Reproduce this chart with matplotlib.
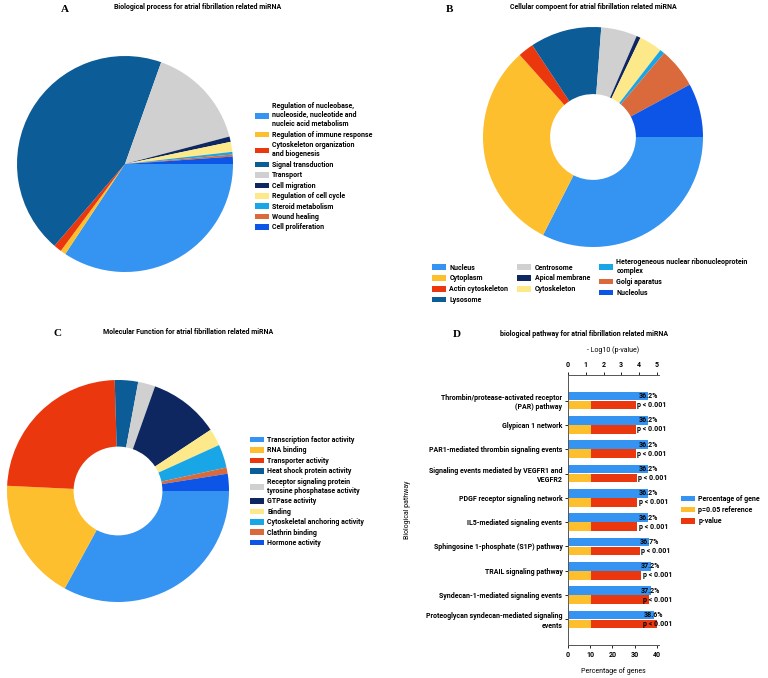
import matplotlib
matplotlib.use("Agg")
import matplotlib.pyplot as plt
import numpy as np

plt.rcParams["font.family"] = ["Roboto", "DejaVu Sans"]
plt.rcParams["font.weight"] = "bold"

# Panel A: biological process
bp_labels = [
    "Regulation of nucleobase,\nnucleoside, nucleotide and\nnucleic acid metabolism",
    "Regulation of immune response",
    "Cytoskeleton organization\nand biogenesis",
    "Signal transduction",
    "Transport",
    "Cell migration",
    "Regulation of cell cycle",
    "Steroid metabolism",
    "Wound healing",
    "Cell proliferation",
]
bp_values = [34.4, 0.8, 1.2, 44.2, 15.5, 0.8, 1.5, 0.4, 0.3, 1.1]

# Panel B: cellular component
cc_labels = [
    "Nucleus", "Cytoplasm", "Actin cytoskeleton", "Lysosome",
    "Centrosome", "Apical membrane", "Cytoskeleton",
    "Heterogeneous nuclear ribonucleoprotein\ncomplex",
    "Golgi aparatus", "Nucleolus",
]
cc_values = [32.5, 30.9, 2.3, 10.5, 5.3, 0.6, 3.4, 0.7, 5.9, 7.9]

# Panel C: molecular function
mf_labels = [
    "Transcription factor activity",
    "RNA binding",
    "Transporter activity",
    "Heat shock protein activity",
    "Receptor signaling protein\ntyrosine phosphatase activity",
    "GTPase activity",
    "Binding",
    "Cytoskeletal anchoring activity",
    "Clathrin binding",
    "Hormone activity",
]
mf_values = [33.0, 17.8, 23.8, 3.4, 2.5, 10.3, 2.5, 3.4, 0.9, 2.5]

# Panel D: biological pathway
pathways = [
    "Thrombin/protease-activated receptor\n(PAR) pathway",
    "Glypican 1 network",
    "PAR1-mediated thrombin signaling events",
    "Signaling events mediated by VEGFR1 and\nVEGFR2",
    "PDGF receptor signaling network",
    "IL5-mediated signaling events",
    "Sphingosine 1-phosphate (S1P) pathway",
    "TRAIL signaling pathway",
    "Syndecan-1-mediated signaling events",
    "Proteoglycan syndecan-mediated signaling\nevents",
]
pct_genes = [36.2, 36.2, 36.2, 36.2, 36.2, 36.2, 36.7, 37.2, 37.2, 38.6]
neg_log_p = [3.82, 3.82, 3.82, 3.88, 3.91, 3.91, 4.03, 4.12, 4.57, 5.04]
ref_p = 0.05

colors = ["#3593F1", "#FDBF2D", "#EB370E", "#0B5C97", "#D0D0D0",
          "#0E2760", "#FDE88A", "#18A6E6", "#DA6A3C", "#0D55E6"]

W, H = 768, 678
fig = plt.figure(figsize=(W / 100, H / 100), dpi=100)
fs = 5.0


def px_axes(cx, cy, r):
    return fig.add_axes([(cx - r) / W, (H - cy - r) / H, 2 * r / W, 2 * r / H])


def fig_text(x, y, s, **kw):
    fig.text(x / W, 1 - y / H, s, **kw)


def pie_panel(cx, cy, r, values, hole=None):
    ax = px_axes(cx, cy, r)
    props = {"linewidth": 0}
    if hole:
        props["width"] = 1 - hole
    wedges, _ = ax.pie(values, colors=colors, startangle=0, counterclock=False,
                       radius=1, wedgeprops=props)
    ax.set_xlim(-1, 1)
    ax.set_ylim(-1, 1)
    return wedges


leg_kw = dict(frameon=False, fontsize=fs, borderpad=0, borderaxespad=0,
              handlelength=2.0, handleheight=0.85, handletextpad=0.5)

# A
w_a = pie_panel(125, 164, 108, bp_values)
fig_text(198, 7, "Biological process for atrial fibrillation related miRNA",
         ha="center", va="center", fontsize=fs)
fig_text(65, 9, "A", ha="center", va="center", fontsize=8,
         family="Liberation Serif", weight="bold")
fig.legend(w_a, bp_labels, loc="upper left", bbox_to_anchor=(255 / W, 1 - 102 / H),
           labelspacing=0.35, **leg_kw)

# B
w_b = pie_panel(593, 137, 110, cc_values, hole=0.39)
fig_text(593, 7, "Cellular compoent for atrial fibrillation related miRNA",
         ha="center", va="center", fontsize=fs)
fig_text(449, 9, "B", ha="center", va="center", fontsize=8,
         family="Liberation Serif", weight="bold")
fig.legend(w_b, cc_labels, loc="upper left", bbox_to_anchor=(432 / W, 1 - 258 / H),
           ncols=3, labelspacing=0.4, columnspacing=1.3, **leg_kw)

# C
w_c = pie_panel(118, 491, 111, mf_values, hole=0.4)
fig_text(188, 332, "Molecular Function for atrial fibrillation related miRNA",
         ha="center", va="center", fontsize=fs)
fig_text(58, 334, "C", ha="center", va="center", fontsize=8,
         family="Liberation Serif", weight="bold")
fig.legend(w_c, mf_labels, loc="upper left", bbox_to_anchor=(250 / W, 1 - 436 / H),
           labelspacing=0.35, **leg_kw)

# D
fig_text(584, 334, "biological pathway for atrial fibrillation related miRNA",
         ha="center", va="center", fontsize=fs)
fig_text(457, 335, "D", ha="center", va="center", fontsize=8,
         family="Liberation Serif", weight="bold")

ax = fig.add_axes([568 / W, 33 / H, 91 / W, 270 / H])
ax_top = ax.twiny()
y = np.arange(len(pathways))
bh = 0.35
off = 0.185
b_pct = ax.barh(y - off, pct_genes, height=bh, color=colors[0], label="Percentage of gene")
ax.set_xlim(0, 41)
ax_top.set_xlim(0, 41 / 8)
b_p = ax_top.barh(y + off, neg_log_p, height=bh, color=colors[2], label="p-value")
b_ref = ax_top.barh(y + off, [-np.log10(ref_p)] * len(y), height=bh, color=colors[1],
                    label="p=0.05 reference")
ax.set_ylim(10.05, -1.05)
ax_top.set_ylim(10.05, -1.05)

for yi, v in zip(y, pct_genes):
    ax.text(v, yi - off, f"{v}%", ha="center", va="center", fontsize=fs)
for yi, v in zip(y, neg_log_p):
    ax_top.text(min(v + 0.09, 4.21), yi + off, "p < 0.001", ha="left", va="center",
                fontsize=fs)

ax.set_yticks(y)
ax.set_yticklabels(pathways, fontsize=fs)
ax.set_xticks([0, 10, 20, 30, 40])
ax.tick_params(axis="x", labelsize=fs, length=2.5, width=0.6, pad=2)
ax.tick_params(axis="y", length=2.5, width=0.6, pad=1.5)
ax_top.set_xticks([0, 1, 2, 3, 4, 5])
ax_top.tick_params(axis="x", labelsize=fs, length=2.5, width=0.6, pad=2)
ax.set_xlabel("Percentage of genes", fontsize=fs, labelpad=6)
ax_top.set_xlabel("- Log10 (p-value)", fontsize=fs, labelpad=6)
ax.set_ylabel("Biological pathway", fontsize=fs, labelpad=0)
ax.yaxis.set_label_coords(-1.72, 0.5)
for a in (ax, ax_top):
    a.spines["right"].set_visible(False)
    for s in ("left", "top", "bottom"):
        a.spines[s].set_linewidth(0.6)
        a.spines[s].set_color("#555555")

fig.legend([b_pct, b_ref, b_p], ["Percentage of gene", "p=0.05 reference", "p-value"],
           loc="upper left", bbox_to_anchor=(681 / W, 1 - 495 / H),
           labelspacing=0.45, **leg_kw)

fig.savefig("out.png", dpi=100)
